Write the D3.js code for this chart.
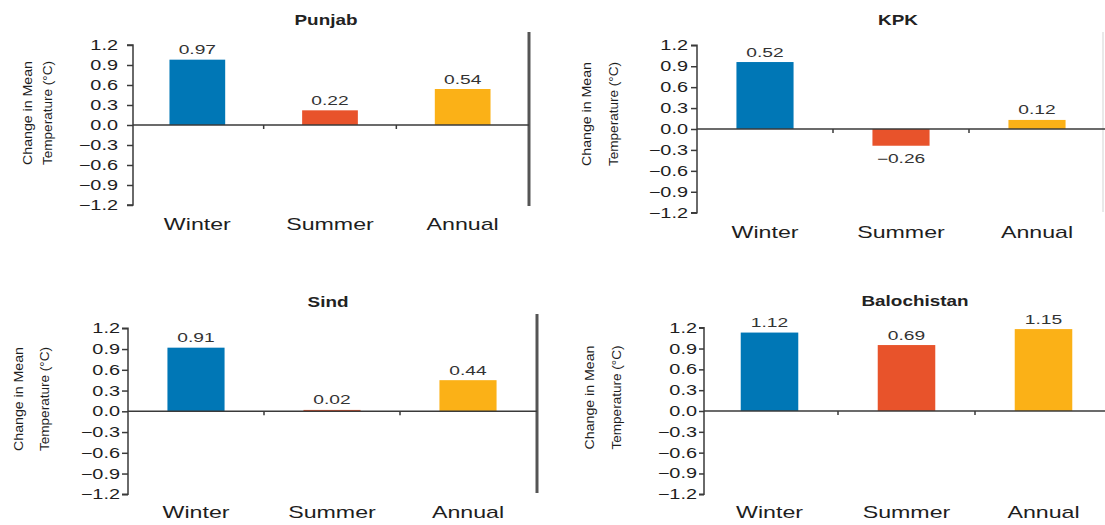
<!DOCTYPE html>
<html><head><meta charset="utf-8">
<script src="https://cdn.jsdelivr.net/npm/d3@7"></script>
<style>html,body{margin:0;padding:0;background:#fff;}svg{display:block;}</style>
</head><body>
<script>
// ---------- DATA ----------
const categories = ["Winter", "Summer", "Annual"];
const regions = ["Punjab", "KPK", "Sind", "Balochistan"];
// bar heights as drawn in the picture
const punjabBars = [0.98, 0.22, 0.54];
const kpkBars = [0.96, -0.24, 0.13];
const sindBars = [0.92, 0.02, 0.45];
const balochistanBars = [1.13, 0.95, 1.18];
// value labels as printed above/below the bars
const punjabLabels = [0.97, 0.22, 0.54];
const kpkLabels = [0.52, -0.26, 0.12];
const sindLabels = [0.91, 0.02, 0.44];
const balochistanLabels = [1.12, 0.69, 1.15];
const yTicks = [1.2, 0.9, 0.6, 0.3, 0.0, -0.3, -0.6, -0.9, -1.2];
const yTitleLines = ["Change in Mean", "Temperature (\u00B0C)"];

// ---------- STYLE / LAYOUT ----------
const barColors = ["#0077b6", "#e8532b", "#fbb117"];
const W = 1105, H = 525;
const FONT = "'Liberation Sans', Arial, sans-serif";
const layouts = [
  {axisX:133, xr:[131,529], yr:[45,205], title:[326,25], sep:{x:529,y1:32,y2:206,c:"#555",w:3}, zeroEnd:529, catY:230, tickSize:6, tickPad:9, yt:[27.5,47.5], ytY:113},
  {axisX:697, xr:[697,1105], yr:[45.3,212.7], title:[898,25], sep:{x:1103,y1:32,y2:212,c:"#e2e2e2",w:1.5}, zeroEnd:1105, catY:237.5, tickSize:6, tickPad:3, yt:[587,614], ytY:114},
  {axisX:128, xr:[128,536], yr:[328.3,494.3], title:[328,307], sep:{x:537,y1:314,y2:493,c:"#555",w:3}, zeroEnd:537, catY:518, tickSize:6, tickPad:2, yt:[19,45], ytY:399},
  {axisX:704, xr:[701,1112], yr:[327.7,494.3], title:[915,306], sep:null, zeroEnd:1105, catY:518, tickSize:5, tickPad:2, yt:[590,617], ytY:397.5}
];
const barSets = [punjabBars, kpkBars, sindBars, balochistanBars];
const labelSets = [punjabLabels, kpkLabels, sindLabels, balochistanLabels];

const svg = d3.select("body").append("svg").attr("width", W).attr("height", H);

function stretch(sel, k) {
  sel.each(function () {
    const t = d3.select(this);
    const x = +t.attr("x") || 0, y = +t.attr("y") || 0;
    t.attr("x", 0).attr("y", 0).attr("transform", `translate(${x},${y}) scale(${k},1)`);
  });
}

const fmtTick = d3.format(".1f");
const fmtVal = d3.format(".2f");

regions.forEach((name, pi) => {
  const L = layouts[pi];
  const bars = barSets[pi], labels = labelSets[pi];
  const g = svg.append("g");
  const x = d3.scaleBand().domain(categories).range(L.xr).paddingInner(0.58).paddingOuter(0.29);
  const y = d3.scaleLinear().domain([1.2, -1.2]).range(L.yr);

  // separator line
  if (L.sep) {
    g.append("line").attr("x1", L.sep.x).attr("x2", L.sep.x).attr("y1", L.sep.y1).attr("y2", L.sep.y2)
      .attr("stroke", L.sep.c).attr("stroke-width", L.sep.w);
  }

  // bars
  g.selectAll("rect.bar").data(bars).join("rect").attr("class", "bar")
    .attr("x", (d, i) => x(categories[i]))
    .attr("width", x.bandwidth())
    .attr("y", d => y(Math.max(0, d)))
    .attr("height", d => Math.abs(y(d) - y(0)))
    .attr("fill", (d, i) => barColors[i]);

  // zero line
  g.append("line").attr("x1", L.axisX).attr("x2", L.zeroEnd).attr("y1", y(0)).attr("y2", y(0))
    .attr("stroke", "#3a3a3a").attr("stroke-width", 1.5);

  // category separator ticks
  categories.slice(1).forEach(c => {
    const cx = x(c) - x.step() * x.paddingInner() / 2;
    g.append("line").attr("x1", cx).attr("x2", cx).attr("y1", y(0)).attr("y2", y(0) + 4)
      .attr("stroke", "#3a3a3a").attr("stroke-width", 1.5);
  });

  // y axis
  const ax = g.append("g").attr("transform", `translate(${L.axisX},0)`)
    .call(d3.axisLeft(y).tickValues(yTicks).tickFormat(fmtTick).tickSize(L.tickSize).tickPadding(L.tickPad));
  ax.select(".domain").attr("stroke", "#3a3a3a").attr("stroke-width", 1.5)
    .attr("d", `M${-L.tickSize},${y(1.2)}H0V${y(-1.2)}H${-L.tickSize}`);
  ax.selectAll(".tick line").attr("stroke", "#3a3a3a").attr("stroke-width", 1.5);
  ax.selectAll(".tick text").attr("fill", "#1e1e1e").style("font-family", FONT).style("font-size", "14px");
  stretch(ax.selectAll(".tick text"), 1.42);

  // value labels
  const vl = g.selectAll("text.val").data(labels).join("text").attr("class", "val")
    .attr("x", (d, i) => x(categories[i]) + x.bandwidth() / 2)
    .attr("y", (d, i) => bars[i] >= 0 ? y(bars[i]) - 5.5 : y(bars[i]) + 17)
    .attr("text-anchor", "middle").attr("fill", "#333")
    .style("font-family", FONT).style("font-size", "12px")
    .text(d => fmtVal(d));
  stretch(vl, 1.6);

  // category labels
  const cl = g.selectAll("text.cat").data(categories).join("text").attr("class", "cat")
    .attr("x", d => x(d) + x.bandwidth() / 2)
    .attr("y", L.catY)
    .attr("text-anchor", "middle").attr("fill", "#1e1e1e")
    .style("font-family", FONT).style("font-size", "16px")
    .text(d => d);
  stretch(cl, 1.45);

  // title
  const tt = g.append("text").attr("x", L.title[0]).attr("y", L.title[1])
    .attr("text-anchor", "middle").attr("fill", "#222")
    .style("font-family", FONT).style("font-size", "14px").style("font-weight", "bold")
    .text(name);
  stretch(tt, 1.35);

  // y title (two rotated lines)
  yTitleLines.forEach((line, li) => {
    g.append("text")
      .attr("transform", `translate(${L.yt[li] + 4},${L.ytY}) rotate(-90)`)
      .attr("text-anchor", "middle").attr("fill", "#1e1e1e")
      .attr("textLength", 104).attr("lengthAdjust", "spacingAndGlyphs")
      .style("font-family", "'Liberation Sans Narrow', 'Liberation Sans', sans-serif")
      .style("font-size", "13.5px")
      .text(line);
  });
});
</script>
</body></html>
